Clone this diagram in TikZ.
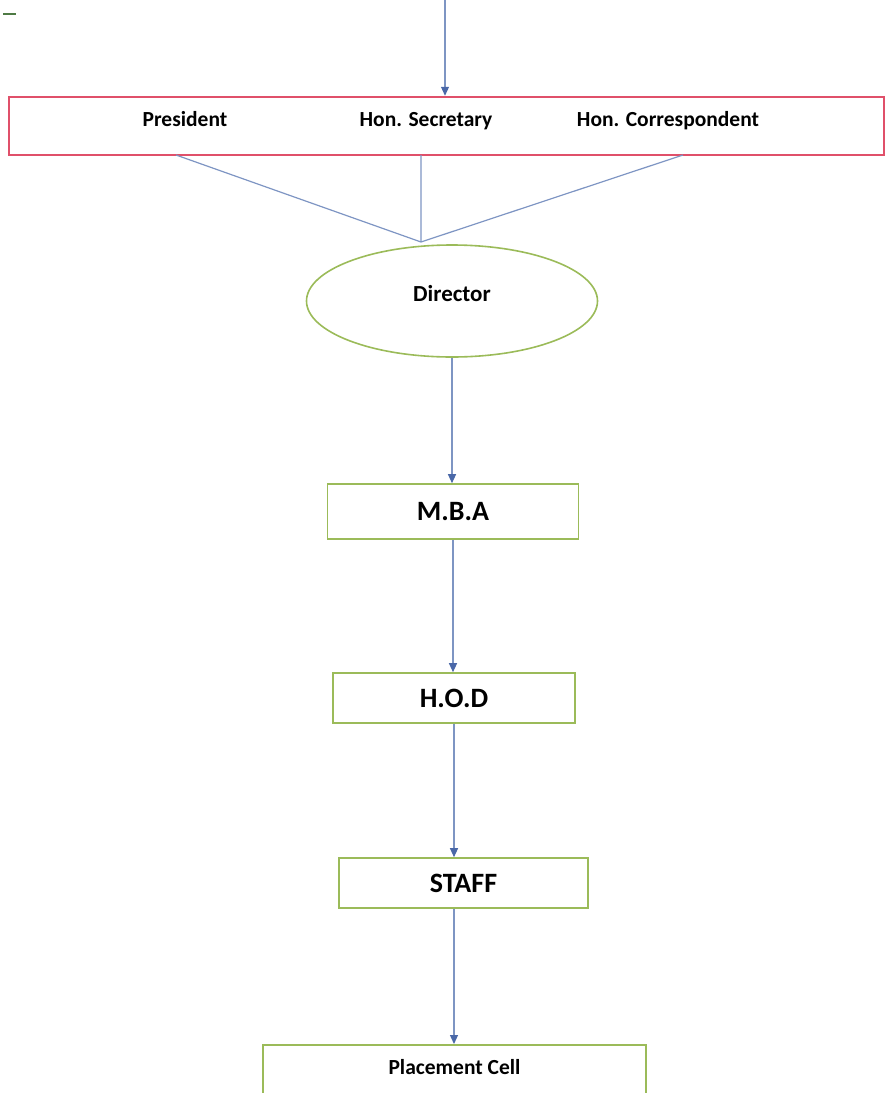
\documentclass[tikz,border=0pt]{standalone}
\usepackage{fontspec}
\setmainfont{Carlito}
\usetikzlibrary{arrows.meta,positioning,shapes.geometric}
\definecolor{linkblue}{HTML}{7E95C3}
\definecolor{tipblue}{HTML}{4A68A8}
\definecolor{boxgreen}{HTML}{9BBB59}
\definecolor{boxred}{HTML}{E0506A}
\definecolor{markgreen}{HTML}{4E7A44}

\begin{document}
\begin{tikzpicture}[x=1pt,y=-1pt,
  link/.style={draw=linkblue,line width=1.2pt},
  flow/.style={link,-{Triangle[width=8pt,length=9pt,color=tipblue]}},
  greenbox/.style={draw=boxgreen,line width=1.6pt,fill=white,inner sep=0pt},
  redbox/.style={draw=boxred,line width=2.5pt,fill=white,inner sep=0pt},
  namefont/.style={font=\fontsize{21.5}{25}\selectfont\bfseries},
  bigfont/.style={font=\fontsize{28}{32}\selectfont\bfseries}]
\useasboundingbox (0,0) rectangle (886,1093);
\clip (0,0) rectangle (886,1093);
\draw[markgreen,line width=2pt] (3,14)--(16,14);
% governing body
\coordinate (src) at (445,0);
\node[redbox,minimum width=875,minimum height=58] (board) at (446.5,126) {};
\node[namefont,anchor=base] (pres) at (185,126) {President};
\node[namefont,anchor=base] (sec) at (426,126) {Hon. Secretary};
\node[namefont,anchor=base] (corr) at (668,126) {Hon. Correspondent};
\draw[flow] (src) -- (src |- board.north);
\coordinate (b1) at (176,155);
\coordinate (b2) at (421,155);
\coordinate (b3) at (683,155);
\coordinate (meet) at (421,242);
\draw[link] (b1) -- (meet) (b2) -- (meet) (b3) -- (meet);
% chain below
\node[ellipse,draw=boxgreen,line width=1.6pt,fill=white,inner sep=0pt,
  minimum width=291,minimum height=112,text depth=16pt,
  font=\fontsize{23}{27}\selectfont\bfseries] (dir) at (452,301) {Director};
\node[greenbox,bigfont,minimum width=251,minimum height=55] (mba) at (453,511.5) {M.B.A};
\node[greenbox,bigfont,minimum width=242,minimum height=50] (hod) at (454,698) {H.O.D};
\node[greenbox,bigfont,minimum width=249,minimum height=50] (staff) at (463.5,883) {STAFF};
\node[greenbox,namefont,anchor=north,minimum width=383,text height=30pt,text depth=30pt] (cell) at (454.5,1044) {Placement Cell};
\draw[flow] (dir.south) -- (dir.south |- mba.north);
\draw[flow] (mba.south) -- (mba.south |- hod.north);
\draw[flow] (hod.south) -- (hod.south |- staff.north);
\draw[flow] (hod.south |- staff.south) -- (hod.south |- cell.north);
\end{tikzpicture}
\end{document}
